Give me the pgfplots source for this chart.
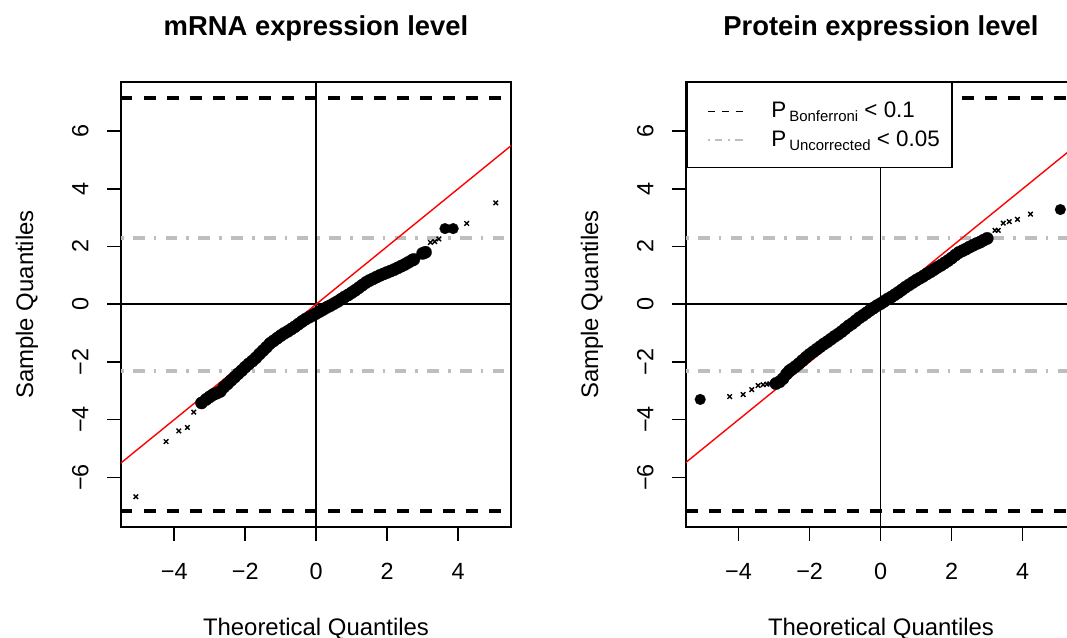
\documentclass[border=0pt]{standalone}
\usepackage{fontspec}
\setmainfont{Liberation Sans}
\usepackage{pgfplots}
\pgfplotsset{compat=1.18}
\definecolor{rgray}{HTML}{BEBEBE}
\definecolor{rred}{HTML}{FF0000}

\pgfplotsset{
 qq/.style={
  scale only axis, width=390bp, height=445bp,
  ymin=-7.72, ymax=7.70,
  axis line style={line width=1.5bp, black},
  every tick/.style={black, line width=1.5bp},
  tick align=outside, major tick length=14bp,
  xtick pos=bottom, ytick pos=left,
  xtick={-4,-2,0,2,4}, xticklabels={−4,−2,0,2,4},
  ytick={-6,-4,-2,0,2,4,6}, yticklabels={−6,−4,−2,0,2,4,6},
  minor tick num=0,
  tick label style={font=\fontsize{23.5}{28}\selectfont, inner sep=0pt},
  xticklabel style={anchor=base, yshift=-38bp},
  yticklabel style={xshift=-18.7bp, rotate=90, anchor=base},
  label style={font=\fontsize{24}{28}\selectfont, inner sep=0pt},
  xlabel={Theoretical Quantiles}, ylabel={Sample Quantiles},
  xlabel style={at={(axis description cs:0.5,-0.2427)}, anchor=base},
  ylabel style={at={(axis description cs:-0.2256,0.5)}, anchor=base},
  title style={at={(axis description cs:0.5,1.0915)}, anchor=base, font=\bfseries\fontsize{27.5}{31}\selectfont, inner sep=0pt},
  clip=true,
 },
 bigdot/.style={only marks, mark=*, mark size=6.2bp, black, mark options={fill=black, draw=black, line width=0.2bp}, forget plot},
 lonedot/.style={only marks, mark=*, mark size=5.4bp, black, mark options={fill=black, draw=black, line width=0.2bp}, forget plot},
 smallx/.style={only marks, mark=x, mark size=3.2bp, black, mark options={line width=1.4bp}, forget plot},
 bonf/.style={black, line width=4bp, dash pattern=on 11.5bp off 11.5bp, forget plot},
 unc/.style={rgray, line width=4bp, dash pattern=on 2.7bp off 9.3bp on 11.7bp off 9bp, forget plot},
 zero/.style={black, line width=1.5bp, forget plot},
 refl/.style={rred, line width=1.4bp, forget plot},
}

\begin{document}
\begin{tikzpicture}[x=1bp,y=1bp]
% ---------------- left panel ----------------
\begin{axis}[qq, at={(121bp,111bp)}, anchor=south west,
  xmin=-5.50, xmax=5.49, title={mRNA expression level}]
\addplot[unc] coordinates {(-5.50,2.30) (5.49,2.30)};
\addplot[unc] coordinates {(-5.50,-2.30) (5.49,-2.30)};
\addplot[bonf] coordinates {(-5.50,7.16) (5.49,7.16)};
\addplot[bonf] coordinates {(-5.50,-7.16) (5.49,-7.16)};
\addplot[zero] coordinates {(-6,0) (6,0)};
\addplot[zero] coordinates {(0,-8) (0,8)};
\addplot[bigdot] coordinates {
(-3.23,-3.42) (-3.10,-3.30) (-3.00,-3.21) (-2.90,-3.13) (-2.80,-3.08) (-2.70,-3.02)
(-2.60,-2.87) (-2.50,-2.76) (-2.40,-2.64) (-2.30,-2.53) (-2.20,-2.41) (-2.10,-2.30)
(-2.00,-2.18) (-1.90,-2.07) (-1.80,-1.97) (-1.70,-1.86) (-1.60,-1.73) (-1.50,-1.61)
(-1.40,-1.49) (-1.30,-1.36) (-1.20,-1.27) (-1.10,-1.18) (-1.00,-1.09) (-0.90,-1.01)
(-0.80,-0.94) (-0.70,-0.86) (-0.60,-0.78) (-0.50,-0.69) (-0.40,-0.60) (-0.30,-0.52)
(-0.20,-0.45) (-0.10,-0.39) (0.00,-0.32) (0.10,-0.25) (0.20,-0.18) (0.30,-0.11)
(0.40,-0.05) (0.50,0.02) (0.60,0.09) (0.70,0.17) (0.80,0.25) (0.90,0.32)
(1.00,0.40) (1.10,0.48) (1.20,0.57) (1.30,0.66) (1.40,0.75) (1.50,0.82)
(1.60,0.88) (1.70,0.94) (1.80,1.00) (1.90,1.05) (2.00,1.10) (2.10,1.15)
(2.20,1.20) (2.30,1.26) (2.40,1.32) (2.50,1.38) (2.60,1.45) (2.70,1.52)
(2.75,1.55) (3.00,1.76) (3.08,1.80)
};
\addplot[lonedot] coordinates {(3.63,2.62) (3.86,2.62)};
\addplot[smallx] coordinates {
(-5.08,-6.67) (-4.23,-4.76) (-3.87,-4.39) (-3.63,-4.27) (-3.45,-3.74) (-3.07,-3.30)
(2.87,1.66) (3.22,2.14) (3.34,2.17) (3.46,2.26) (4.24,2.80) (5.06,3.51)
};
\addplot[refl] coordinates {(-6,-6) (6,6)};
\end{axis}
% ---------------- right panel ----------------
\begin{axis}[qq, at={(686bp,111bp)}, anchor=south west,
  xmin=-5.48, xmax=5.50, title={Protein expression level},
  legend style={at={(axis description cs:0,1)}, anchor=north west,
    draw=black, line width=1.5bp, fill=white,
    inner xsep=12bp, inner ysep=14.2bp,
    font=\fontsize{22.5}{27}\selectfont,
    column sep=25bp, row sep=0pt,
    cells={anchor=base west},
    nodes={anchor=base west, inner sep=0pt, text height=20.8bp, text depth=7.5bp}},
  legend image code/.code={\path[draw=none,fill=none] (0bp,0bp) -- (47bp,0bp); \draw[#1] (9bp,6bp) -- (47bp,6bp);}]
\addlegendimage{black, line width=1.2bp, dash pattern=on 7bp off 7bp}
\addlegendentry{P\hspace{3bp}\raisebox{-4bp}{\fontsize{15}{15}\selectfont Bonferroni} < 0.1}
\addlegendimage{rgray, line width=1.2bp, dash pattern=on 1.8bp off 5.5bp on 7.4bp off 5.5bp}
\addlegendentry{P\hspace{3bp}\raisebox{-4bp}{\fontsize{15}{15}\selectfont Uncorrected} < 0.05}
\addplot[unc] coordinates {(-5.48,2.30) (5.50,2.30)};
\addplot[unc] coordinates {(-5.48,-2.30) (5.50,-2.30)};
\addplot[bonf] coordinates {(-5.48,7.16) (5.50,7.16)};
\addplot[bonf] coordinates {(-5.48,-7.16) (5.50,-7.16)};
\addplot[zero] coordinates {(-6,0) (6,0)};
\addplot[zero] coordinates {(0,-8) (0,8)};
\addplot[bigdot] coordinates {
(-2.95,-2.75) (-2.85,-2.69) (-2.75,-2.58) (-2.65,-2.42) (-2.57,-2.31) (-2.50,-2.25)
(-2.40,-2.16) (-2.30,-2.06) (-2.20,-1.95) (-2.10,-1.84) (-2.00,-1.74) (-1.90,-1.65)
(-1.80,-1.56) (-1.70,-1.47) (-1.60,-1.38) (-1.50,-1.30) (-1.40,-1.21) (-1.30,-1.12)
(-1.20,-1.04) (-1.10,-0.95) (-1.00,-0.85) (-0.90,-0.75) (-0.80,-0.67) (-0.70,-0.57)
(-0.60,-0.47) (-0.50,-0.39) (-0.40,-0.30) (-0.30,-0.21) (-0.20,-0.13) (-0.10,-0.05)
(0.00,0.02) (0.10,0.10) (0.20,0.18) (0.30,0.25) (0.40,0.33) (0.50,0.41)
(0.60,0.50) (0.70,0.59) (0.80,0.67) (0.90,0.75) (1.00,0.83) (1.10,0.90)
(1.20,0.97) (1.30,1.05) (1.40,1.12) (1.50,1.20) (1.60,1.28) (1.70,1.35)
(1.80,1.43) (1.90,1.51) (2.00,1.60) (2.10,1.70) (2.20,1.79) (2.30,1.85)
(2.40,1.91) (2.50,1.98) (2.60,2.04) (2.70,2.10) (2.80,2.15) (2.90,2.22)
(3.00,2.28)
};
\addplot[lonedot] coordinates {(-5.08,-3.30) (5.06,3.28)};
\addplot[smallx] coordinates {
(-4.25,-3.20) (-3.87,-3.13) (-3.63,-2.96) (-3.45,-2.82) (-3.31,-2.79) (-3.20,-2.77)
(-3.12,-2.76) (-2.74,-2.54)
(3.22,2.56) (3.31,2.56) (3.45,2.81) (3.62,2.86) (3.85,2.94) (4.22,3.12)
};
\addplot[refl] coordinates {(-6,-6) (6,6)};
\end{axis}
\pgfresetboundingbox
\path[use as bounding box] (0bp,0bp) rectangle (1067bp,638bp);
\end{tikzpicture}
\end{document}
